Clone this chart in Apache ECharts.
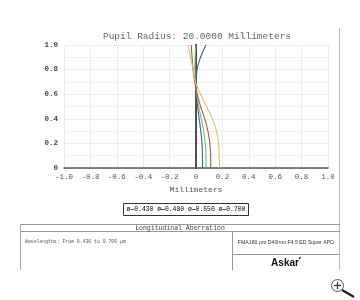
<!DOCTYPE html>
<html><head><meta charset="utf-8">
<script src="https://cdn.jsdelivr.net/npm/echarts@6/dist/echarts.min.js"></script>
<style>html,body{margin:0;padding:0;background:#fff}#c{width:360px;height:300px}</style>
</head><body><div id="c"></div>
<script>
var pupil = [0, 0.1, 0.2, 0.3, 0.4, 0.5, 0.6, 0.7, 0.8, 0.9, 1.0];
var seriesNames = ['0.430', '0.480', '0.550', '0.700'];
var wl430 = [0.050, 0.049, 0.045, 0.036, 0.024, 0.012, 0.003, 0.000, 0.008, 0.035, 0.075];
var wl480 = [0.076, 0.075, 0.070, 0.058, 0.040, 0.020, 0.005, -0.005, -0.008, -0.006, -0.002];
var wl550 = [0.112, 0.111, 0.105, 0.090, 0.066, 0.035, 0.010, -0.010, -0.022, -0.030, -0.036];
var wl700 = [0.178, 0.176, 0.170, 0.155, 0.125, 0.080, 0.035, -0.005, -0.022, -0.042, -0.062];
var xTicks = [-1.0, -0.8, -0.6, -0.4, -0.2, 0, 0.2, 0.4, 0.6, 0.8, 1.0];
var yTicks = [0, 0.2, 0.4, 0.6, 0.8, 1.0];
var colors = ['#4b55a5', '#5ec464', '#c04a5a', '#d4c466'];

var allVals = [wl430, wl480, wl550, wl700];
var mono = 'Liberation Mono';
var chart = echarts.init(document.getElementById('c'), null, {renderer: 'canvas'});

var series = allVals.map(function (vals, i) {
  return {
    name: seriesNames[i], type: 'line', smooth: true, symbol: 'none',
    lineStyle: {width: 1.1, color: colors[i]}, itemStyle: {color: colors[i]},
    data: vals.map(function (v, k) { return [v, pupil[k]]; }),
    z: 3
  };
});
series.push({
  name: 'axis0', type: 'line', symbol: 'none',
  lineStyle: {width: 1.1, color: '#666'},
  data: [[0, 0], [0, 1]], z: 2
});

var richLegend = {t: {fontFamily: mono, fontSize: 6.4, color: '#333'}};
var legendStr = '';
seriesNames.forEach(function (n, i) {
  richLegend['c' + i] = {fontFamily: mono, fontSize: 6.4, color: colors[i], fontWeight: 'bold'};
  legendStr += '{t|ø}{c' + i + '|—}{t|' + n + '}' + (i < seriesNames.length - 1 ? '{t| }' : '');
});

chart.setOption({
  animation: false,
  title: {
    text: 'Pupil Radius: 20.0000 Millimeters', left: 192, top: 26, textAlign: 'center',
    textStyle: {fontFamily: mono, fontSize: 9.5, fontWeight: 'normal', color: '#666'}
  },
  grid: {left: 64, right: 32, top: 45, bottom: 132},
  xAxis: {
    type: 'value', min: -1, max: 1, interval: 0.2,
    name: 'Millimeters', nameLocation: 'middle', nameGap: 18,
    nameTextStyle: {fontFamily: mono, fontSize: 8, color: '#555'},
    axisLine: {show: true, onZero: false, lineStyle: {color: '#555', width: 1.5}},
    axisTick: {show: false},
    axisLabel: {fontFamily: mono, fontSize: 7.5, color: '#555', margin: 5,
      formatter: function (v) { return Math.abs(v) < 1e-9 ? '0' : v.toFixed(1); }},
    splitLine: {show: true, lineStyle: {color: '#ececec', width: 1}}
  },
  yAxis: {
    type: 'value', min: 0, max: 1, interval: 0.2,
    axisLine: {show: true, lineStyle: {color: '#333', width: 2}},
    axisTick: {show: false},
    axisLabel: {fontFamily: mono, fontSize: 7.5, color: '#444', margin: 6, fontWeight: 'bold',
      formatter: function (v) { return Math.abs(v) < 1e-9 ? '0' : v.toFixed(1); }},
    splitLine: {show: true, lineStyle: {color: '#ececec', width: 1}},
    minorTick: {show: false, splitNumber: 2},
    minorSplitLine: {show: true, lineStyle: {color: '#f2f2f2', width: 1}}
  },
  series: series,
  graphic: [
    {type: 'rect', shape: {x: 123.5, y: 203.5, width: 125, height: 12}, style: {fill: '#fff', stroke: '#333', lineWidth: 1}},
    {type: 'text', x: 186, y: 209.5, style: {text: legendStr, rich: richLegend, textAlign: 'center', textVerticalAlign: 'middle'}},
    {type: 'line', shape: {x1: 339.5, y1: 28, x2: 339.5, y2: 270}, style: {stroke: '#bbb', lineWidth: 1}},
    {type: 'line', shape: {x1: 20.5, y1: 224, x2: 20.5, y2: 270}, style: {stroke: '#aaa', lineWidth: 1}},
    {type: 'line', shape: {x1: 20, y1: 224.5, x2: 340, y2: 224.5}, style: {stroke: '#999', lineWidth: 1}},
    {type: 'line', shape: {x1: 20, y1: 231.5, x2: 340, y2: 231.5}, style: {stroke: '#999', lineWidth: 1}},
    {type: 'line', shape: {x1: 232.5, y1: 231.5, x2: 232.5, y2: 270}, style: {stroke: '#999', lineWidth: 1}},
    {type: 'line', shape: {x1: 232.5, y1: 254.5, x2: 340, y2: 254.5}, style: {stroke: '#999', lineWidth: 1}},
    {type: 'text', x: 180, y: 228, style: {text: 'Longitudinal Aberration', fontFamily: mono, fontSize: 6.5, fill: '#444', textAlign: 'center', textVerticalAlign: 'middle'}},
    {type: 'text', x: 25, y: 242, style: {text: 'Wavelengths: From 0.430 to 0.700 µm', fontFamily: mono, fontSize: 4.8, fill: '#555', textAlign: 'left', textVerticalAlign: 'middle'}},
    {type: 'text', x: 286, y: 243, style: {text: 'FMA180 pro D40mm F4.5 ED Super APO', fontFamily: 'Liberation Sans', fontSize: 5.2, fill: '#333', textAlign: 'center', textVerticalAlign: 'middle'}},
    {type: 'text', x: 285, y: 263, style: {text: 'Askar', fontFamily: 'Liberation Sans', fontSize: 10, fontWeight: 'bold', fill: '#111', textAlign: 'center', textVerticalAlign: 'middle'}},
    {type: 'line', shape: {x1: 299, y1: 259, x2: 300.5, y2: 257}, style: {stroke: '#111', lineWidth: 1.2}},
    {type: 'circle', shape: {cx: 337.5, cy: 285.5, r: 6}, style: {fill: '#fff', stroke: '#555', lineWidth: 1}},
    {type: 'line', shape: {x1: 334, y1: 285.5, x2: 341, y2: 285.5}, style: {stroke: '#333', lineWidth: 1.2}},
    {type: 'line', shape: {x1: 337.5, y1: 282, x2: 337.5, y2: 289}, style: {stroke: '#333', lineWidth: 1.2}},
    {type: 'line', shape: {x1: 342, y1: 290, x2: 354, y2: 297}, style: {stroke: '#222', lineWidth: 2.2}}
  ]
});
</script></body></html>
